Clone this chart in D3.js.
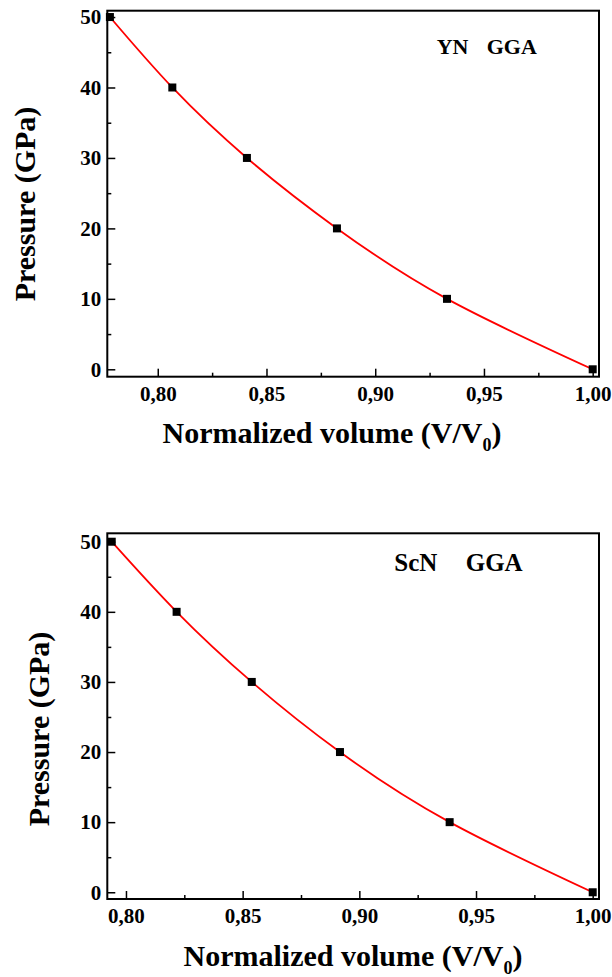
<!DOCTYPE html>
<html>
<head>
<meta charset="utf-8">
<script src="https://cdn.jsdelivr.net/npm/d3@7"></script>
<style>
  html, body { margin: 0; padding: 0; background: #fff; }
</style>
</head>
<body>
<div id="chart"></div>
<script>
// Data
const ynVolume = [0.778, 0.8067, 0.841, 0.8824, 0.933, 1.0];
const ynPressure = [50, 40, 30, 20, 10, 0];
const scnVolume = [0.7939, 0.8217, 0.8539, 0.8917, 0.9387, 1.0];
const scnPressure = [50, 40, 30, 20, 10, 0];
const xTickValues = [0.80, 0.85, 0.90, 0.95, 1.00];
const xMinorValues = [0.775, 0.825, 0.875, 0.925, 0.975];
const yTickValues = [0, 10, 20, 30, 40, 50];
const yMinorValues = [5, 15, 25, 35, 45];

const width = 612, height = 977;
const serif = '"Liberation Serif", "Times New Roman", Times, serif';

const locale = d3.formatLocale({ decimal: ",", thousands: ".", grouping: [3], currency: ["", ""] });
const fmtX = locale.format(".2f");

const svg = d3.select('#chart').append('svg')
  .attr('width', width)
  .attr('height', height)
  .attr('font-family', serif)
  .attr('font-weight', 'bold');

svg.append('rect').attr('width', width).attr('height', height).attr('fill', '#fff');

// panel layout
const panels = [
  {
    volume: ynVolume, pressure: ynPressure,
    left: 107.3, right: 599, top: 10.7, bottom: 376.7,
    xDomain: [0.7768, 1.0029], yDomain: [-1.05, 50.9],
    label: [{ text: 'YN', x: 436.7 }, { text: 'GGA', x: 486.7 }], labelY: 54.3, labelSize: 22,
    xTitleX: 332, xTitleY: 443, yTitleX: 35, yTitleY: 204
  },
  {
    volume: scnVolume, pressure: scnPressure,
    left: 107.3, right: 599, top: 533.3, bottom: 899,
    xDomain: [0.792, 1.0027], yDomain: [-0.96, 51.2],
    label: [{ text: 'ScN', x: 394.3 }, { text: 'GGA', x: 465.7 }], labelY: 571, labelSize: 25,
    xTitleX: 353, xTitleY: 966, yTitleX: 49, yTitleY: 729
  }
];

panels.forEach(p => drawPanel(p));

function styleAxis(g) {
  g.attr('font-family', serif).attr('font-weight', 'bold');
  g.select('.domain').remove();
  g.selectAll('line').attr('stroke-width', 1.5);
  g.selectAll('text').attr('font-size', 21).attr('fill', '#000');
}

function drawPanel(p) {
  const xScale = d3.scaleLinear().domain(p.xDomain).range([p.left, p.right]);
  const yScale = d3.scaleLinear().domain(p.yDomain).range([p.bottom, p.top]);

  const points = p.volume.map((v, i) => ({ v: v, P: p.pressure[i] }));

  // fitted curve
  svg.append('path')
    .datum(points)
    .attr('fill', 'none')
    .attr('stroke', '#ff0000')
    .attr('stroke-width', 1.8)
    .attr('d', d3.line()
      .x(d => xScale(d.v))
      .y(d => yScale(d.P))
      .curve(d3.curveNatural));

  // square markers
  svg.append('g').selectAll('rect')
    .data(points)
    .enter()
    .append('rect')
    .attr('x', d => xScale(d.v) - 4)
    .attr('y', d => yScale(d.P) - 4)
    .attr('width', 8)
    .attr('height', 8)
    .attr('fill', '#000');

  // minor ticks
  svg.append('g')
    .attr('transform', `translate(0, ${p.bottom})`)
    .call(d3.axisBottom(xScale).tickValues(xMinorValues.filter(v => v > p.xDomain[0])).tickSize(-4).tickFormat(''))
    .call(styleAxis);

  svg.append('g')
    .attr('transform', `translate(${p.left}, 0)`)
    .call(d3.axisLeft(yScale).tickValues(yMinorValues).tickSize(-4).tickFormat(''))
    .call(styleAxis);

  // major x axis
  svg.append('g')
    .attr('transform', `translate(0, ${p.bottom})`)
    .call(d3.axisBottom(xScale).tickValues(xTickValues).tickSize(-8).tickSizeOuter(0).tickPadding(9).tickFormat(fmtX))
    .call(styleAxis);

  // major y axis
  svg.append('g')
    .attr('transform', `translate(${p.left}, 0)`)
    .call(d3.axisLeft(yScale).tickValues(yTickValues).tickSize(-8).tickSizeOuter(0).tickPadding(6))
    .call(styleAxis);

  // frame
  svg.append('rect')
    .attr('x', p.left)
    .attr('y', p.top)
    .attr('width', p.right - p.left)
    .attr('height', p.bottom - p.top)
    .attr('fill', 'none')
    .attr('stroke', '#000')
    .attr('stroke-width', 2);

  // compound label
  p.label.forEach(l => {
    svg.append('text')
      .attr('x', l.x)
      .attr('y', p.labelY)
      .attr('font-size', p.labelSize)
      .text(l.text);
  });

  // x title
  const xt = svg.append('text')
    .attr('x', p.xTitleX)
    .attr('y', p.xTitleY)
    .attr('text-anchor', 'middle')
    .attr('font-size', 30);
  xt.append('tspan').text('Normalized volume (V/V');
  xt.append('tspan').attr('font-size', 18).attr('dy', 8).text('0');
  xt.append('tspan').attr('dy', -8).text(')');

  // y title
  svg.append('text')
    .attr('transform', `translate(${p.yTitleX}, ${p.yTitleY}) rotate(-90)`)
    .attr('text-anchor', 'middle')
    .attr('font-size', 30)
    .text('Pressure (GPa)');
}
</script>
</body>
</html>
